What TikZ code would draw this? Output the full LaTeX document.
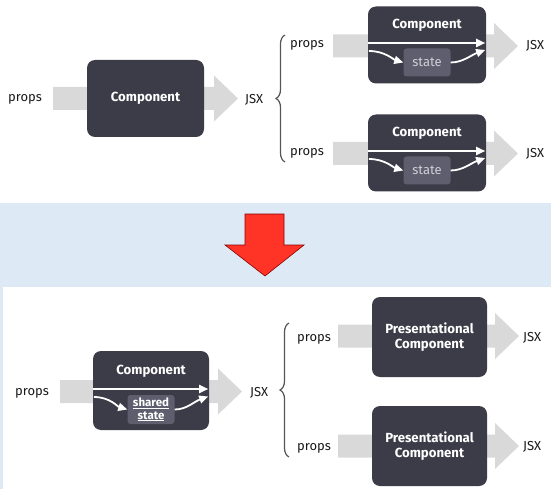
\documentclass[tikz,border=0pt]{standalone}
\usepackage{fontspec}
\setmainfont{Fira Sans}
\usetikzlibrary{arrows.meta, positioning, calc, decorations.pathreplacing}
\definecolor{compdark}{HTML}{3C3B48}
\definecolor{stategray}{HTML}{5F5E6E}
\definecolor{statetext}{HTML}{CFCFD8}
\definecolor{arrowgray}{HTML}{D9D9D9}
\definecolor{bracegray}{HTML}{555555}
\definecolor{bandblue}{HTML}{DDE9F5}
\definecolor{redarrow}{HTML}{FF3326}

\begin{document}
\begin{tikzpicture}[
    x=1pt, y=-1pt,
    % Node styles
    comp/.style={rectangle, rounded corners=8pt, fill=compdark, text=white, minimum width=117pt, minimum height=77pt, align=center, font=\bfseries\fontsize{13.2}{15.5}\selectfont},
    comptitle/.style={text=white, font=\bfseries\fontsize{13.2}{15.5}\selectfont, inner sep=0pt},
    statebox/.style={rectangle, rounded corners=3pt, fill=stategray, minimum width=47pt, minimum height=28pt, inner sep=1pt, align=center},
    lbl/.style={font=\fontsize{13}{15}\selectfont, text=black!90, anchor=west, inner sep=0pt},
    bigarrow/.style={fill=arrowgray},
    flow/.style={-{Triangle[length=9pt, width=8pt]}, white, line width=1.8pt},
    curly/.style={decorate, decoration={brace, amplitude=9pt}, bracegray, line width=1.2pt},
]
\useasboundingbox (0,0) rectangle (551,489);

% ============================================================================
% BACKGROUND
% ============================================================================
\fill[bandblue] (0,203) rectangle (551,489);
\fill[white] (3,287) rectangle (551,489);

% Red arrow between the two halves
\filldraw[fill=redarrow, draw=red!55!black, line width=0.6pt] (245,214) -- (284,214) -- (284,245) -- (304,245) -- (265,276) -- (225,245) -- (245,245) -- cycle;

% Gray flow arrows (behind the boxes)
\foreach \xa/\xb/\y in {53/238/98.5, 333/518/46, 333/518/153.5, 60/242/391.5, 338/519/336, 338/519/446} {
    \fill[bigarrow] (\xa,\y-11.5) -- (\xb-24,\y-11.5) -- (\xb-24,\y-23) -- (\xb,\y) -- (\xb-24,\y+23) -- (\xb-24,\y+11.5) -- (\xa,\y+11.5) -- cycle;
}

% ============================================================================
% TOP: EVERY COMPONENT KEEPS ITS OWN STATE
% ============================================================================
\node[lbl] (p0) at (8,99.5) {props};
\node[comp] (c0) at (145.5,98.5) {Component};
\node[lbl] (j0) at (245,99.5) {JSX};
\draw[curly] (285,162) -- (285,35);

\foreach \n/\y in {1/45, 2/153} {
    \node[lbl] (p\n) at (290,\y+0.5) {props};
    \node[comp, minimum width=118pt] (c\n) at (427,\y) {};
    \node[comptitle] (t\n) at ($(c\n.center)+(0,-20)$) {Component};
    \node[statebox, font=\fontsize{13}{15}\selectfont, text=statetext] (s\n) at ($(c\n.center)+(0,17.5)$) {state};
    \node[lbl] (j\n) at (526,\y+0.5) {JSX};
    % props pass through, state feeds in
    \coordinate (a\n) at ($(c\n.west)+(0,-2)$);
    \coordinate (b\n) at ($(c\n.east)+(-1,-2)$);
    \coordinate (d\n) at ($(c\n.west)+(1,6)$);
    \coordinate (e\n) at ($(c\n.east)+(-1,5)$);
    \draw[flow] (a\n) -- (b\n);
    \draw[flow] (d\n) .. controls +(16,0) and +(-10,-3) .. (s\n.west);
    \draw[flow] (s\n.east) .. controls +(12,0) and +(-14,5) .. (e\n);
}

% ============================================================================
% BOTTOM: SHARED STATE LIFTED UP
% ============================================================================
\node[lbl] (p3) at (15,393) {props};
\node[comp, minimum width=116pt, minimum height=79pt] (c3) at (151,390.5) {};
\node[comptitle] (t3) at ($(c3.center)+(0,-19.5)$) {Component};
\node[statebox, minimum height=29pt, text=white, font=\bfseries\fontsize{11.5}{12.5}\selectfont] (s3) at ($(c3.center)+(0,19)$) {\underline{shared}\\\underline{state}};
\node[lbl] (j3) at (250,393) {JSX};
\coordinate (a3) at ($(c3.west)+(0,-1.5)$);
\coordinate (b3) at ($(c3.east)+(-1,-1.5)$);
\coordinate (d3) at ($(c3.west)+(1,6.5)$);
\coordinate (e3) at ($(c3.east)+(-1,6)$);
\draw[flow] (a3) -- (b3);
\draw[flow] (d3) .. controls +(16,0) and +(-10,-3) .. (s3.west);
\draw[flow] (s3.east) .. controls +(12,0) and +(-14,5) .. (e3);

\draw[curly] (289,457) -- (289,323);

\foreach \n/\y in {4/337, 5/446} {
    \node[lbl] (p\n) at (297,\y+2) {props};
    \node[comp, minimum width=115pt, minimum height=80pt] (c\n) at (429.5,\y) {Presentational\\Component};
    \node[lbl] (j\n) at (523,\y+1) {JSX};
}

\end{tikzpicture}
\end{document}
